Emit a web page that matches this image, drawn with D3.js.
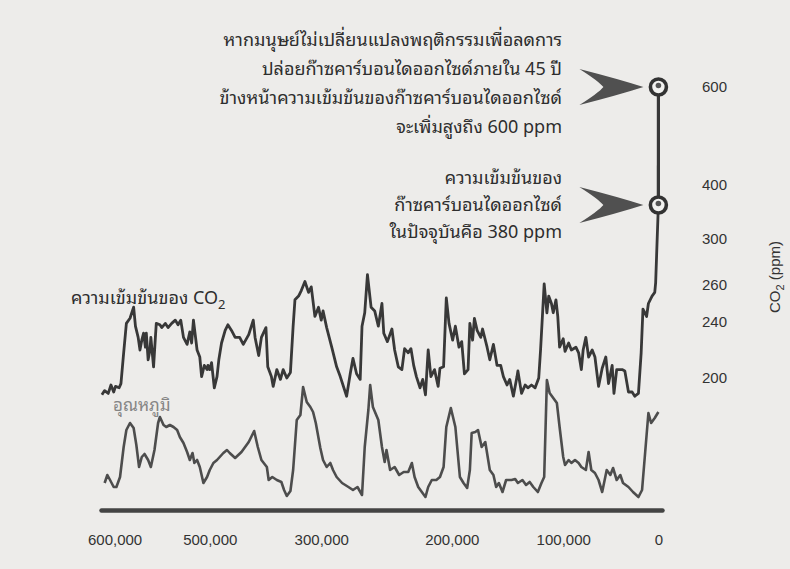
<!DOCTYPE html>
<html>
<head>
<meta charset="utf-8">
<script src="https://cdn.jsdelivr.net/npm/d3@7"></script>
<style>
  body { margin: 0; background: #edecea; }
  svg { display: block; }
  .thai { font-family: "Noto Sans Thai Looped", "Noto Sans Thai", "Loma", "Garuda", "Sarabun", "Noto Sans", sans-serif; }
  .num { font-family: "Liberation Sans", Arial, sans-serif; }
</style>
</head>
<body>
<svg id="chart" width="790" height="569"></svg>
<script>
// ice core record, [thousand years before present, CO2 ppm]
const co2Record = [
  [614,188],[611,191],[607,189],[604,195],[601,190],[599,194],[595,193],[593,196],[590,218],[587,239],
  [583,242],[579,248],[577,237],[574,229],[572,220],[570,227],[568,232],[566,222],[565,232],[563,213],
  [561,220],[560,229],[557,208],[555,229],[554,239],[550,238],[548,236],[544,239],[541,236],[537,239],
  [533,241],[530,238],[527,241],[524,229],[520,224],[517,233],[515,225],[513,241],[509,220],[506,215],
  [504,201],[501,209],[498,206],[497,209],[495,206],[493,211],[490,193],[487,201],[485,213],[482,225],
  [478,234],[475,238],[471,234],[467,229],[462,229],[458,224],[452,231],[447,241],[445,229],[441,216],
  [438,229],[433,236],[431,208],[427,201],[425,194],[421,206],[417,199],[414,206],[410,200],[406,204],
  [403,237],[401,252],[397,254],[394,257],[390,263],[386,256],[383,259],[379,243],[375,248],[372,241],
  [370,246],[366,236],[360,221],[355,208],[351,201],[344,187],[340,203],[337,214],[333,203],[329,199],
  [327,237],[324,245],[321,269],[317,248],[313,246],[309,237],[305,250],[303,232],[299,226],[294,235],
  [291,220],[287,208],[283,206],[280,221],[276,218],[273,221],[270,209],[267,201],[263,193],[260,199],
  [257,188],[254,220],[251,201],[247,206],[243,194],[241,207],[237,208],[234,253],[231,239],[227,227],
  [224,237],[220,222],[217,226],[214,203],[210,206],[208,239],[205,227],[203,242],[200,234],[196,229],
  [194,235],[189,222],[186,213],[182,224],[178,209],[174,209],[171,201],[167,195],[164,199],[160,187],
  [156,201],[155,205],[151,189],[147,195],[144,193],[140,195],[136,193],[132,200],[130,220],[126,261],
  [123,245],[121,254],[118,250],[116,245],[113,252],[111,243],[109,222],[105,228],[103,219],[99,225],
  [96,220],[91,222],[88,218],[85,206],[83,220],[80,229],[77,215],[73,220],[70,215],[66,194],
  [62,207],[58,215],[55,196],[51,209],[49,189],[46,206],[40,206],[37,205],[33,190],[29,190],
  [26,187],[22,189],[19,218],[17,247],[13,243],[11,250],[7,254],[4,256],[3,262],[0,380]
];

// temperature change, [thousand years before present, deg C]
const tempRecord = [
  [611,-6.3],[608,-5.5],[605,-6.0],[601,-6.7],[598,-6.7],[594,-5.7],[590,-2.7],[587,-1.0],[583,-0.3],[579,-0.8],
  [576,-2.5],[573,-4.7],[570,-3.7],[567,-3.4],[563,-4.0],[560,-4.7],[556,-3.0],[552,-0.3],[550,0.3],[546,-0.5],
  [543,-0.7],[539,-0.5],[535,-0.7],[531,-1.0],[528,-1.7],[524,-2.3],[520,-3.2],[517,-4.0],[514,-3.3],[512,-4.3],
  [509,-4.0],[506,-4.7],[502,-6.3],[498,-5.7],[495,-5.0],[491,-4.3],[487,-4.0],[484,-3.7],[480,-3.3],[476,-3.0],
  [473,-3.3],[467,-3.8],[460,-3.2],[452,-2.2],[446,-1.1],[442,-2.7],[438,-4.0],[432,-4.7],[430,-6.0],[426,-5.7],
  [421,-6.0],[416,-6.2],[413,-7.0],[410,-7.6],[406,-7.1],[403,-5.0],[399,0.0],[395,0.5],[392,3.3],[388,1.8],
  [384,1.3],[381,0.8],[378,-0.3],[373,-2.8],[370,-4.0],[366,-4.7],[362,-4.3],[359,-5.0],[355,-5.7],[349,-6.3],
  [342,-6.7],[337,-7.0],[332,-6.7],[327,-7.5],[324,-2.7],[320,1.0],[318,3.5],[315,1.3],[309,0.0],[305,-2.7],
  [302,-4.2],[300,-3.0],[296,-5.0],[291,-4.7],[286,-5.5],[281,-5.2],[276,-5.2],[272,-4.3],[269,-5.7],[265,-6.7],
  [261,-7.2],[257,-7.7],[254,-6.7],[250,-6.0],[245,-6.0],[241,-5.7],[237,-4.7],[234,-0.7],[229,1.2],[224,-0.7],
  [219,-5.7],[215,-6.3],[211,-6.8],[208,-5.0],[206,-1.3],[202,-1.2],[199,-1.0],[195,-2.7],[191,-2.2],[186,-5.0],
  [182,-5.5],[179,-6.7],[176,-6.3],[172,-7.2],[168,-6.0],[162,-6.0],[158,-5.9],[155,-6.3],[150,-6.0],[146,-6.5],
  [142,-6.2],[138,-6.7],[133,-7.2],[129,-6.3],[126,-5.7],[123,4.0],[120,2.7],[116,2.2],[112,1.7],[109,-0.7],
  [105,-3.7],[103,-4.5],[99,-4.0],[96,-4.3],[92,-4.0],[88,-4.3],[85,-4.7],[80,-5.0],[77,-3.2],[74,-5.0],
  [70,-5.3],[66,-6.0],[62,-7.2],[57,-5.0],[53,-5.5],[50,-4.8],[46,-6.0],[42,-5.5],[39,-6.3],[33,-6.7],
  [28,-7.2],[22,-7.7],[18,-7.0],[15,-3.7],[11,0.7],[8,-0.3],[4,0.2],[0,0.8]
];

// today and the value expected 45 years ahead
const co2Markers = [[0, 380], [-0.045, 600]];

const co2Ticks = [600, 400, 300, 260, 240, 200];
const xTickYears = [600, 495, 372, 228, 105, 0];
const xTickLabels = ["600,000", "500,000", "300,000", "200,000", "100,000", "0"];

const noteFuture = [
  "หากมนุษย์ไม่เปลี่ยนแปลงพฤติกรรมเพื่อลดการ",
  "ปล่อยก๊าซคาร์บอนไดออกไซด์ภายใน 45 ปี",
  "ข้างหน้าความเข้มข้นของก๊าซคาร์บอนไดออกไซด์",
  "จะเพิ่มสูงถึง 600 ppm"
];
const noteNow = [
  "ความเข้มข้นของ",
  "ก๊าซคาร์บอนไดออกไซด์",
  "ในปัจจุบันคือ 380 ppm"
];
const co2Label = "ความเข้มข้นของ CO";
const tempLabel = "อุณหภูมิ";

const ink = "#383838";
const svg = d3.select("#chart");

const x = d3.scaleLinear().domain([615, -4]).range([101, 662]);
// the hand drawn ppm axis is not even, so the scale is piecewise
const yCo2 = d3.scaleLinear()
  .domain([180, 200, 240, 260, 300, 380, 400, 600])
  .range([406, 378, 322, 285, 239, 205, 185, 87]);
const yTemp = d3.scaleLinear().domain([-9, 4]).range([510, 380]);

// time axis
const xAxis = svg.append("g")
  .attr("transform", "translate(0,510)")
  .call(d3.axisBottom(x).tickValues(xTickYears)
    .tickFormat((d, i) => xTickLabels[i]).tickSize(0).tickPadding(24));
xAxis.select(".domain").attr("stroke", "#444").attr("stroke-width", 4.5).attr("stroke-linecap", "round");
xAxis.selectAll("text").attr("class", "num").attr("font-size", 15).attr("fill", "#333");

// ppm axis, labels only
const yAxis = svg.append("g")
  .attr("transform", "translate(702,0)")
  .call(d3.axisRight(yCo2).tickValues(co2Ticks).tickSize(0).tickPadding(0).tickFormat(d3.format("d")));
yAxis.select(".domain").remove();
yAxis.selectAll("text").attr("class", "num").attr("font-size", 15).attr("fill", "#333");

const yTitle = svg.append("text")
  .attr("class", "num")
  .attr("transform", "translate(780,277) rotate(-90)")
  .attr("text-anchor", "middle")
  .attr("font-size", 15)
  .attr("fill", "#333");
yTitle.append("tspan").text("CO");
yTitle.append("tspan").text("2").attr("font-size", 11).attr("dy", 4);
yTitle.append("tspan").text(" (ppm)").attr("dy", -4);

const line = d3.line().x(d => x(d[0]));

svg.append("path")
  .datum(tempRecord)
  .attr("d", line.y(d => yTemp(d[1])))
  .attr("fill", "none")
  .attr("stroke", "#4d4d4d")
  .attr("stroke-width", 2.6)
  .attr("stroke-linejoin", "round");

svg.append("path")
  .datum(co2Record)
  .attr("d", line.y(d => yCo2(d[1])))
  .attr("fill", "none")
  .attr("stroke", ink)
  .attr("stroke-width", 2.8)
  .attr("stroke-linejoin", "round");

svg.append("path")
  .datum(co2Markers)
  .attr("d", line.y(d => yCo2(d[1])))
  .attr("stroke", ink)
  .attr("stroke-width", 3.2);

// arrows and rings on the present and projected values
const marks = svg.selectAll(".mark").data(co2Markers).enter().append("g")
  .attr("transform", d => `translate(${x(d[0])},${yCo2(d[1])})`);

marks.append("path")
  .attr("d", "M-15,0 Q-40,-8 -79,-18 Q-60,-6 -55,0 Q-60,6 -79,18 Q-40,8 -15,0Z")
  .attr("fill", "#505050");

marks.append("circle").attr("r", 8).attr("fill", "#f2f2f0").attr("stroke", "#333").attr("stroke-width", 3.6);
marks.append("circle").attr("r", 2.8).attr("cy", -1.5).attr("fill", "#555");

// notes
const notes = [
  { lines: noteFuture, y: 40, step: 29 },
  { lines: noteNow, y: 178, step: 27 }
];
notes.forEach(n => {
  svg.append("g").selectAll("text").data(n.lines).enter().append("text")
    .attr("class", "thai")
    .attr("x", 562)
    .attr("y", (d, i) => n.y + i * n.step)
    .attr("dy", "0.35em")
    .attr("text-anchor", "end")
    .attr("font-size", 18)
    .attr("fill", "#2e2e2e")
    .text(d => d);
});

const cLabel = svg.append("text")
  .attr("class", "thai")
  .attr("x", 71).attr("y", 298).attr("dy", "0.35em")
  .attr("font-size", 18).attr("fill", "#2e2e2e");
cLabel.append("tspan").text(co2Label);
cLabel.append("tspan").text("2").attr("font-size", 13).attr("dy", 5);

svg.append("text")
  .attr("class", "thai")
  .attr("x", 113).attr("y", 405).attr("dy", "0.35em")
  .attr("font-size", 17).attr("fill", "#858585")
  .text(tempLabel);
</script>
</body>
</html>
